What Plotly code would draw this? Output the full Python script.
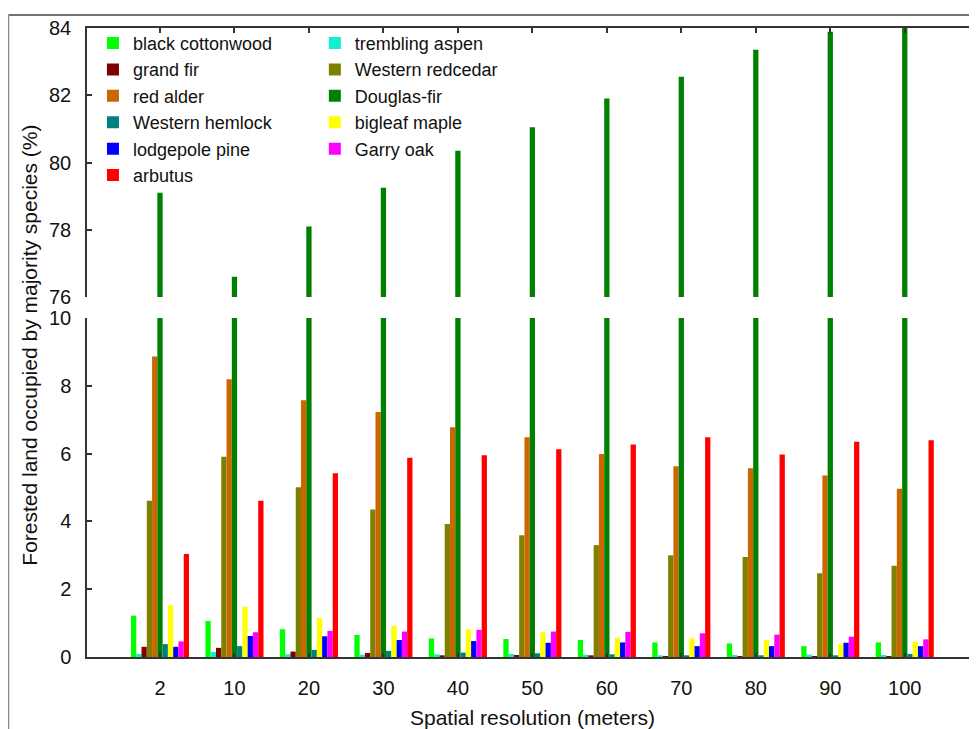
import plotly.graph_objects as go

resolutions = ["2", "10", "20", "30", "40", "50", "60", "70", "80", "90", "100"]

black_cottonwood = [1.22, 1.06, 0.82, 0.65, 0.55, 0.53, 0.50, 0.43, 0.40, 0.32, 0.43]
trembling_aspen = [0.09, 0.15, 0.08, 0.07, 0.08, 0.09, 0.07, 0.05, 0.06, 0.07, 0.06]
grand_fir = [0.30, 0.27, 0.16, 0.12, 0.05, 0.06, 0.05, 0.03, 0.03, 0.03, 0.03]
western_redcedar = [4.61, 5.91, 5.01, 4.35, 3.92, 3.59, 3.30, 3.00, 2.95, 2.47, 2.69]
red_alder = [8.86, 8.19, 7.57, 7.23, 6.78, 6.48, 5.99, 5.63, 5.57, 5.35, 4.96]
douglas_fir = [79.1, 76.6, 78.1, 79.25, 80.35, 81.05, 81.9, 82.55, 83.35, 83.89, 84.1]
western_hemlock = [0.38, 0.32, 0.21, 0.18, 0.13, 0.11, 0.08, 0.05, 0.05, 0.05, 0.09]
bigleaf_maple = [1.53, 1.48, 1.15, 0.92, 0.82, 0.73, 0.57, 0.55, 0.50, 0.38, 0.45]
lodgepole_pine = [0.30, 0.62, 0.61, 0.50, 0.47, 0.42, 0.43, 0.32, 0.32, 0.42, 0.32]
garry_oak = [0.46, 0.73, 0.77, 0.75, 0.80, 0.75, 0.74, 0.70, 0.66, 0.60, 0.52]
arbutus = [3.04, 4.61, 5.42, 5.88, 5.95, 6.13, 6.27, 6.48, 5.97, 6.35, 6.39]

# (name, values, colour, legend column) in bar order
series = [
    ("black cottonwood", black_cottonwood, "#00FF00", "legend"),
    ("trembling aspen", trembling_aspen, "#10F0D0", "legend2"),
    ("grand fir", grand_fir, "#800000", "legend"),
    ("Western redcedar", western_redcedar, "#808000", "legend2"),
    ("red alder", red_alder, "#CC6600", "legend"),
    ("Douglas-fir", douglas_fir, "#008000", "legend2"),
    ("Western hemlock", western_hemlock, "#008080", "legend"),
    ("bigleaf maple", bigleaf_maple, "#FFFF00", "legend2"),
    ("lodgepole pine", lodgepole_pine, "#0000FF", "legend"),
    ("Garry oak", garry_oak, "#FF00FF", "legend2"),
    ("arbutus", arbutus, "#FF0000", "legend"),
]

FONT = "Arial, Liberation Sans, sans-serif"
AX = "#333333"

fig = go.Figure()
for name, vals, col, leg in series:
    # lower (0-10) panel
    fig.add_trace(go.Bar(x=resolutions, y=vals, name=name, marker=dict(color=col, line=dict(width=0)),
                         xaxis="x", yaxis="y", legend=leg, legendgroup=name))
    # upper (76-84) panel
    fig.add_trace(go.Bar(x=resolutions, y=vals, name=name, marker=dict(color=col, line=dict(width=0)),
                         xaxis="x2", yaxis="y2", legendgroup=name, showlegend=False))

xr = [-0.98, 10.97]
common_y = dict(showline=True, linecolor=AX, linewidth=1.5, ticks="inside", ticklen=5,
                tickcolor=AX, tickwidth=1.5, showgrid=False, zeroline=False,
                tickfont=dict(size=20, color="#111111", family=FONT), ticklabelstandoff=10)

fig.update_layout(
    width=977, height=729,
    margin=dict(l=79, r=8, t=20, b=80),
    paper_bgcolor="white", plot_bgcolor="white",
    barmode="group", bargap=0.22, bargroupgap=0,
    font=dict(family=FONT, color="#111111"),
    xaxis=dict(type="category", range=xr, anchor="y", showline=True, linecolor=AX, linewidth=1.5,
               ticks="inside", ticklen=4, tickcolor=AX, tickwidth=1.5, showgrid=False,
               tickfont=dict(size=20, color="#111111", family=FONT), ticklabelstandoff=12),
    xaxis2=dict(type="category", range=xr, anchor="y2", matches="x", side="top", showline=True,
                linecolor=AX, linewidth=1.5, ticks="inside", ticklen=5, tickcolor=AX, tickwidth=1.5,
                showticklabels=False, showgrid=False),
    yaxis=dict(domain=[0, 0.539], range=[0, 10], tickvals=[0, 2, 4, 6, 8, 10], anchor="x", **common_y),
    yaxis2=dict(domain=[0.5723, 1], range=[76, 84], tickvals=[76, 78, 80, 82, 84], anchor="x2", **common_y),
    legend=dict(x=0.0067, y=1.005, xanchor="left", yanchor="top", bgcolor="rgba(0,0,0,0)",
                font=dict(size=18, family=FONT, color="#111111"), tracegroupgap=0),
    legend2=dict(x=0.256, y=1.005, xanchor="left", yanchor="top", bgcolor="rgba(0,0,0,0)",
                 font=dict(size=18, family=FONT, color="#111111"), tracegroupgap=0),
    annotations=[
        dict(text="Spatial resolution (meters)", xref="paper", yref="paper", x=0.5, y=-0.0954,
             xanchor="center", yanchor="middle", showarrow=False,
             font=dict(size=21, family=FONT, color="#111111")),
        dict(text="Forested land occupied by majority species (%)", xref="paper", yref="paper",
             x=-0.064, y=0.495, xanchor="center", yanchor="middle", textangle=-90, showarrow=False,
             font=dict(size=21, family=FONT, color="#111111")),
    ],
    shapes=[
        dict(type="line", xref="paper", yref="paper", x0=-0.0882, x1=1.01, y0=1.0207, y1=1.0207,
             line=dict(color="#444444", width=1.5)),
        dict(type="line", xref="paper", yref="paper", x0=-0.0882, x1=-0.0882, y0=1.0207, y1=-0.13,
             line=dict(color="#888888", width=1.5)),
    ],
)

fig.write_html("out.html")
